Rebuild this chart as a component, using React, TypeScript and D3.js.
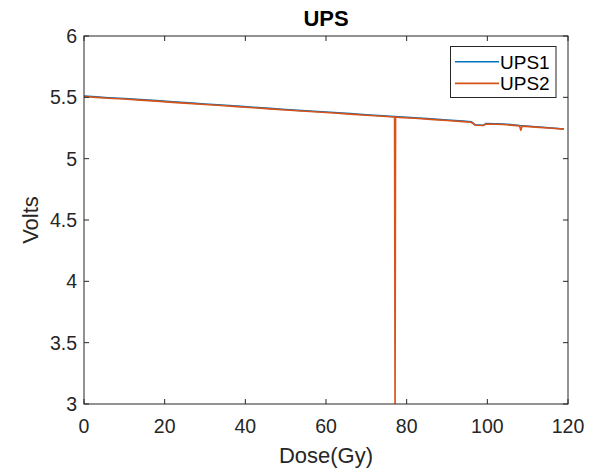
import React from "react";
import * as d3 from "d3";

const title = "UPS";
const xLabel = "Dose(Gy)";
const yLabel = "Volts";
const seriesNames = ["UPS1", "UPS2"];

const xTicks = [0, 20, 40, 60, 80, 100, 120];
const xTickLabels = ["0", "20", "40", "60", "80", "100", "120"];
const yTicks = [3, 3.5, 4, 4.5, 5, 5.5, 6];
const yTickLabels = ["3", "3.5", "4", "4.5", "5", "5.5", "6"];

const dose1 = [0, 3, 6, 10, 14, 18, 22, 26, 30, 34, 38, 42, 46, 50, 54, 58, 62, 66, 70, 74, 78, 82, 86, 90, 94, 96, 97, 99, 99.6, 104, 108, 112, 116, 119];
const ups1 = [5.510, 5.504, 5.497, 5.490, 5.481, 5.473, 5.463, 5.455, 5.446, 5.437, 5.428, 5.419, 5.410, 5.401, 5.392, 5.384, 5.376, 5.367, 5.358, 5.350, 5.341, 5.333, 5.324, 5.315, 5.306, 5.301, 5.276, 5.272, 5.286, 5.283, 5.270, 5.260, 5.250, 5.242];

const dose2 = [0, 3, 6, 10, 14, 18, 22, 26, 30, 34, 38, 42, 46, 50, 54, 58, 62, 66, 70, 74, 77.0, 77.12, 77.25, 78, 82, 86, 90, 94, 96, 97, 99, 99.6, 104, 108, 108.3, 108.6, 112, 116, 119];
const ups2 = [5.507, 5.500, 5.493, 5.486, 5.477, 5.469, 5.459, 5.451, 5.442, 5.433, 5.424, 5.415, 5.406, 5.397, 5.388, 5.380, 5.372, 5.363, 5.354, 5.346, 5.340, 2.9, 5.340, 5.337, 5.329, 5.320, 5.311, 5.302, 5.297, 5.273, 5.270, 5.282, 5.279, 5.267, 5.232, 5.265, 5.257, 5.248, 5.241];

const colors = ["#0072BD", "#D95319"];

const W = 591;
const H = 470;
const M = { left: 84, right: 568, top: 36, bottom: 404 };
const FONT = "'Liberation Sans', Arial, Helvetica, sans-serif";
const INK = "#262626";

export default function App() {
  const x = d3.scaleLinear().domain([0, 120]).range([M.left, M.right]);
  const y = d3.scaleLinear().domain([3, 6]).range([M.bottom, M.top]);

  const line = d3
    .line<[number, number]>()
    .x((d) => x(d[0]))
    .y((d) => y(d[1]));

  const s1: [number, number][] = dose1.map((d, i) => [d, ups1[i]]);
  const s2: [number, number][] = dose2.map((d, i) => [d, ups2[i]]);
  const series = [s1, s2];
  const tickLen = 5;

  return (
    <svg
      width={W}
      height={H}
      style={{ position: "absolute", left: 0, top: 0, background: "#fff" }}
      fontFamily={FONT}
    >
      <rect x={0} y={0} width={W} height={H} fill="#fff" />
      <defs>
        <clipPath id="plotclip">
          <rect x={M.left} y={M.top} width={M.right - M.left} height={M.bottom - M.top} />
        </clipPath>
      </defs>

      <g clipPath="url(#plotclip)">
        {series.map((s, i) => (
          <path key={i} d={line(s) || ""} fill="none" stroke={colors[i]} strokeWidth={1.6} strokeLinejoin="round" />
        ))}
      </g>

      {/* box */}
      <rect x={M.left} y={M.top} width={M.right - M.left} height={M.bottom - M.top} fill="none" stroke={INK} strokeWidth={1} />

      {/* x ticks */}
      {xTicks.map((t, i) => (
        <g key={"x" + i}>
          <line x1={x(t)} x2={x(t)} y1={M.bottom} y2={M.bottom - tickLen} stroke={INK} />
          <line x1={x(t)} x2={x(t)} y1={M.top} y2={M.top + tickLen} stroke={INK} />
          <text x={x(t)} y={433} textAnchor="middle" fontSize={19.5} fill={INK}>
            {xTickLabels[i]}
          </text>
        </g>
      ))}

      {/* y ticks */}
      {yTicks.map((t, i) => (
        <g key={"y" + i}>
          <line x1={M.left} x2={M.left + tickLen} y1={y(t)} y2={y(t)} stroke={INK} />
          <line x1={M.right} x2={M.right - tickLen} y1={y(t)} y2={y(t)} stroke={INK} />
          <text x={77} y={y(t) + 7} textAnchor="end" fontSize={19.5} fill={INK}>
            {yTickLabels[i]}
          </text>
        </g>
      ))}

      {/* title */}
      <text x={(M.left + M.right) / 2} y={26} textAnchor="middle" fontSize={22} fontWeight="bold" fill="#000">
        {title}
      </text>

      {/* axis labels */}
      <text x={(M.left + M.right) / 2} y={463} textAnchor="middle" fontSize={22} fill={INK}>
        {xLabel}
      </text>
      <text
        transform={`translate(38, ${(M.top + M.bottom) / 2}) rotate(-90)`}
        textAnchor="middle"
        fontSize={22}
        fill={INK}
      >
        {yLabel}
      </text>

      {/* legend */}
      <g>
        <rect x={450.5} y={46.5} width={105.5} height={51} fill="#fff" stroke={INK} strokeWidth={1} />
        {seriesNames.map((n, i) => (
          <g key={n}>
            <line x1={455} x2={499} y1={61.7 + i * 21.7} y2={61.7 + i * 21.7} stroke={colors[i]} strokeWidth={1.6} />
            <text x={500} y={68.5 + i * 21.7} fontSize={19} fill="#000">
              {n}
            </text>
          </g>
        ))}
      </g>
    </svg>
  );
}
